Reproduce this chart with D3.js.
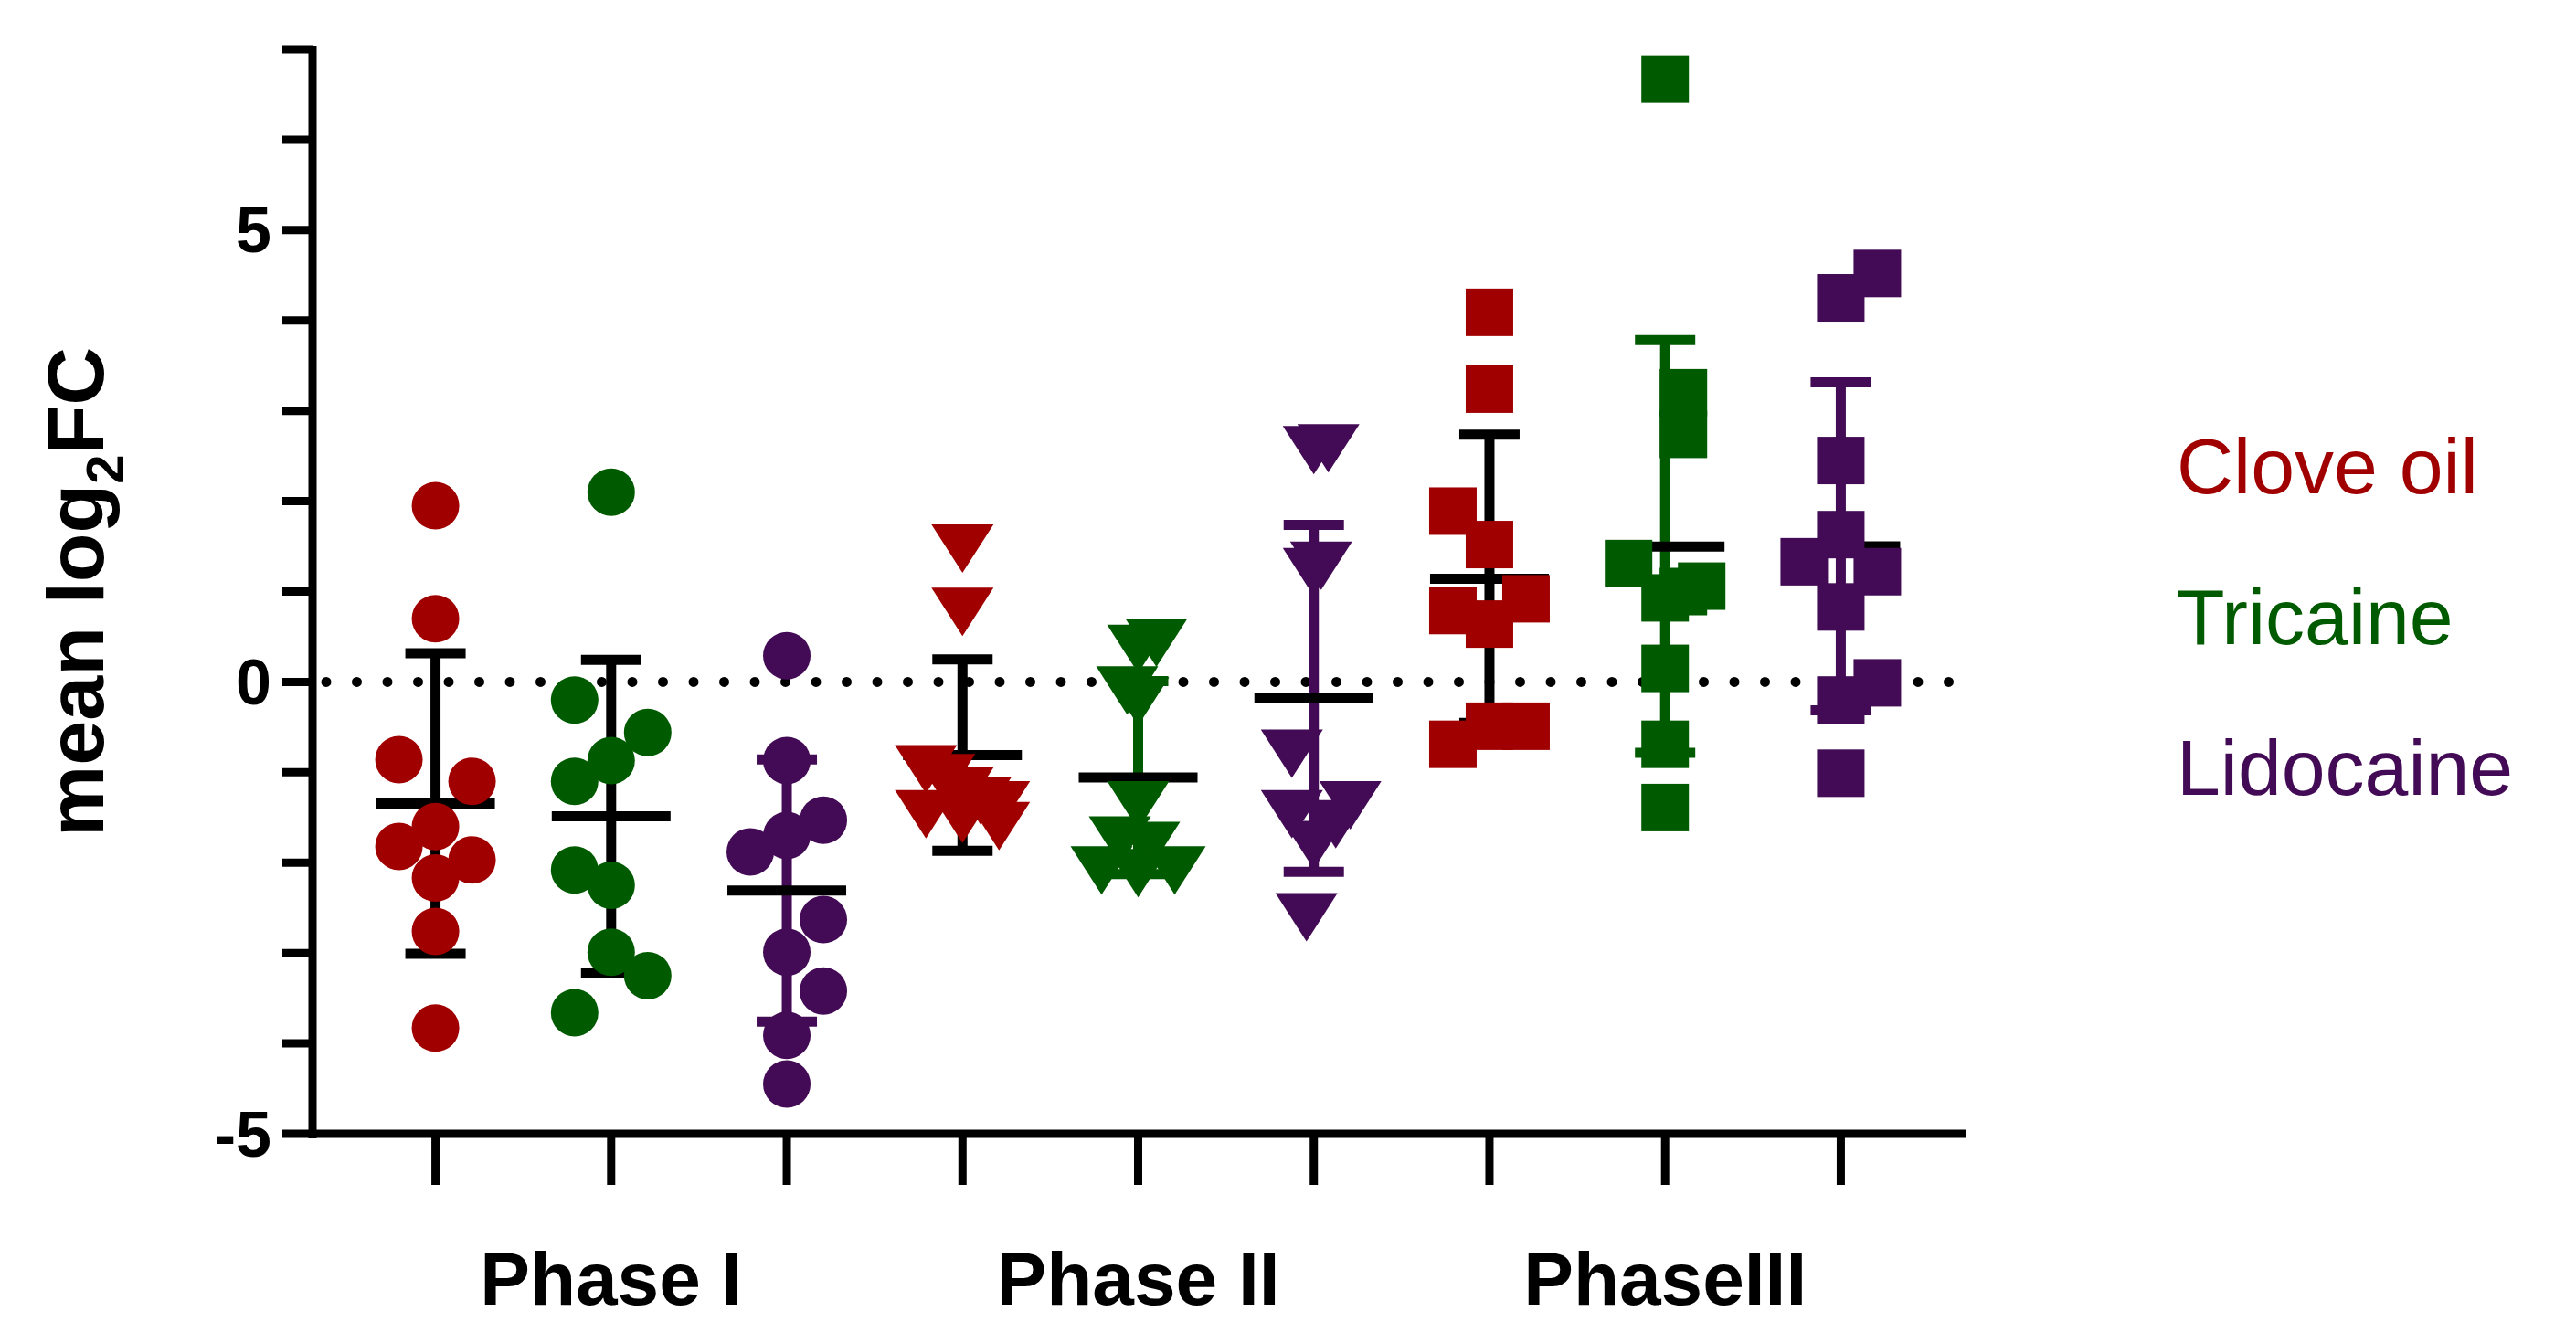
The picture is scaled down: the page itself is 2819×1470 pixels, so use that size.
<!DOCTYPE html>
<html><head><meta charset="utf-8">
<script src="https://cdn.jsdelivr.net/npm/d3@7"></script>
<style>body{margin:0;background:#fff}svg{display:block}text{font-family:Arial,"Liberation Sans",sans-serif}</style>
</head><body><svg id="c" width="2819" height="1470"></svg>
<script>
const phases = ["Phase I", "Phase II", "PhaseIII"];
const drugs = ["Clove oil", "Tricaine", "Lidocaine"];
const colors = ["#a00000", "#005a00", "#430b55"];
const shapes = ["circle", "triangle", "square"];
const yTickLabels = [-5, 0, 5];
// values per phase x drug
const p1Clove = [1.95, 0.70, -0.86, -1.10, -1.60, -1.82, -1.97, -2.17, -2.76, -3.83];
const p1Tric  = [2.10, -0.20, -0.56, -0.87, -1.10, -2.08, -2.25, -2.99, -3.25, -3.66];
const p1Lido  = [0.29, -0.87, -1.53, -1.70, -1.88, -2.63, -2.99, -3.42, -3.91, -4.45];
const p2Clove = [1.49, 0.79, -0.95, -1.05, -1.20, -1.30, -1.35, -1.45, -1.50, -1.58];
const p2Tric  = [0.45, 0.38, -0.08, -0.20, -1.35, -1.74, -1.80, -2.07, -2.10, -2.07];
const p2Lido  = [2.58, 2.60, 1.23, 1.30, -0.78, -1.35, -1.45, -1.56, -1.79, -2.59];
const p3Clove = [4.09, 3.24, 1.89, 1.52, 0.92, 0.79, 0.64, -0.49, -0.49, -0.69];
const p3Tric  = [6.67, 3.20, 2.74, 1.31, 0.93, 1.06, 1.00, 0.15, -0.69, -1.39];
const p3Lido  = [4.52, 4.25, 2.45, 1.63, 1.33, 1.22, 0.83, -0.01, -0.20, -1.01];
// jitter slots (-1 left, 0 centre, 1 right) for each group
const j1C=[0,0,-1,1,0,-1,1,0,0,0], j1T=[0,-1,1,0,-1,-1,0,0,1,-1], j1L=[0,0,1,0,-1,1,0,1,0,0];
const j2C=[0,0,-1,-0.5,0,0.5,1,-1,0,1], j2T=[0.5,0,-0.3,0,0,-0.5,0.3,-1,0,1], j2L=[0,0.4,0,0.2,-0.6,1,-0.6,0.6,0,-0.2];
const j3C=[0,0,-1,0,1,-1,0,0,1,-1], j3T=[0,0.5,0.5,-1,0,1,0.5,0,0,0], j3L=[1,0,0,0,-1,1,0,1,0,0];
const groups = [
 [p1Clove,j1C],[p1Tric,j1T],[p1Lido,j1L],
 [p2Clove,j2C],[p2Tric,j2T],[p2Lido,j2L],
 [p3Clove,j3C],[p3Tric,j3T],[p3Lido,j3L]];

const svg = d3.select("#c");
const y = d3.scaleLinear().domain([-5,7]).range([1241,54]);
const x = d3.scaleBand().domain(d3.range(9)).range([342,2149]).paddingInner(0).paddingOuter(0.2);
const xc = i => x(i)+x.bandwidth()/2;
const K = "#000";

// dotted zero line
svg.append("line").attr("x1",342+15).attr("x2",2149).attr("y1",y(0)).attr("y2",y(0))
 .attr("stroke",K).attr("stroke-width",11).attr("stroke-linecap","round").attr("stroke-dasharray","0 33.5");

groups.forEach(([vals,jit],i)=>{
  const drug=i%3, phase=Math.floor(i/3), col=colors[drug], cx=xc(i);
  const m=d3.mean(vals), sd=d3.deviation(vals);
  const wcol = drug===0 ? K : (drug===1 && phase===0 ? K : col);
  const g=svg.append("g");
  g.append("line").attr("x1",cx).attr("x2",cx).attr("y1",y(m+sd)).attr("y2",y(m-sd)).attr("stroke",wcol).attr("stroke-width",11);
  [m+sd,m-sd].forEach(v=>g.append("line").attr("x1",cx-33).attr("x2",cx+33).attr("y1",y(v)).attr("y2",y(v)).attr("stroke",wcol).attr("stroke-width",11));
  g.append("line").attr("x1",cx-65).attr("x2",cx+65).attr("y1",y(m)).attr("y2",y(m)).attr("stroke",K).attr("stroke-width",11);
  vals.forEach((v,k)=>{
    const px=cx+jit[k]*40, py=y(v);
    if(shapes[phase]==="circle") g.append("ellipse").attr("cx",px).attr("cy",py).attr("rx",26).attr("ry",26).attr("fill",col);
    else if(shapes[phase]==="triangle") g.append("path").attr("d",`M${px-34},${py-25}L${px+34},${py-25}L${px},${py+28}Z`).attr("fill",col);
    else g.append("rect").attr("x",px-26).attr("y",py-26).attr("width",52).attr("height",52).attr("fill",col);
  });
});

// axes
const ya=svg.append("g").attr("transform","translate(342,0)");
ya.append("line").attr("x1",0).attr("x2",0).attr("y1",y(7)-4).attr("y2",y(-5)+5).attr("stroke",K).attr("stroke-width",9);
d3.range(-5,8).forEach(v=>ya.append("line").attr("x1",-33).attr("x2",0).attr("y1",y(v)).attr("y2",y(v)).attr("stroke",K).attr("stroke-width",9));
yTickLabels.forEach(v=>ya.append("text").attr("x",-45).attr("y",y(v)).attr("dy","0.35em").attr("text-anchor","end")
  .attr("font-size",70).attr("font-weight","bold").text(v));
const xa=svg.append("g");
xa.append("line").attr("x1",338).attr("x2",2152).attr("y1",1241).attr("y2",1241).attr("stroke",K).attr("stroke-width",9);
d3.range(9).forEach(i=>xa.append("line").attr("x1",xc(i)).attr("x2",xc(i)).attr("y1",1241).attr("y2",1297).attr("stroke",K).attr("stroke-width",9));
phases.forEach((p,k)=>xa.append("text").attr("x",xc(k*3+1)).attr("y",1428).attr("text-anchor","middle")
  .attr("font-size",82).attr("font-weight","bold").text(p));

// y label
const yl=svg.append("text").attr("transform","translate(113,648) rotate(-90)").attr("text-anchor","middle")
 .attr("font-size",88).attr("font-weight","bold");
yl.append("tspan").text("mean log");
yl.append("tspan").attr("font-size",58).attr("dy",22).text("2");
yl.append("tspan").attr("dy",-22).text("FC");

// legend
drugs.forEach((d,k)=>svg.append("text").attr("x",2382).attr("y",540+k*165).attr("font-size",86).attr("fill",colors[k]).text(d));
</script></body></html>
